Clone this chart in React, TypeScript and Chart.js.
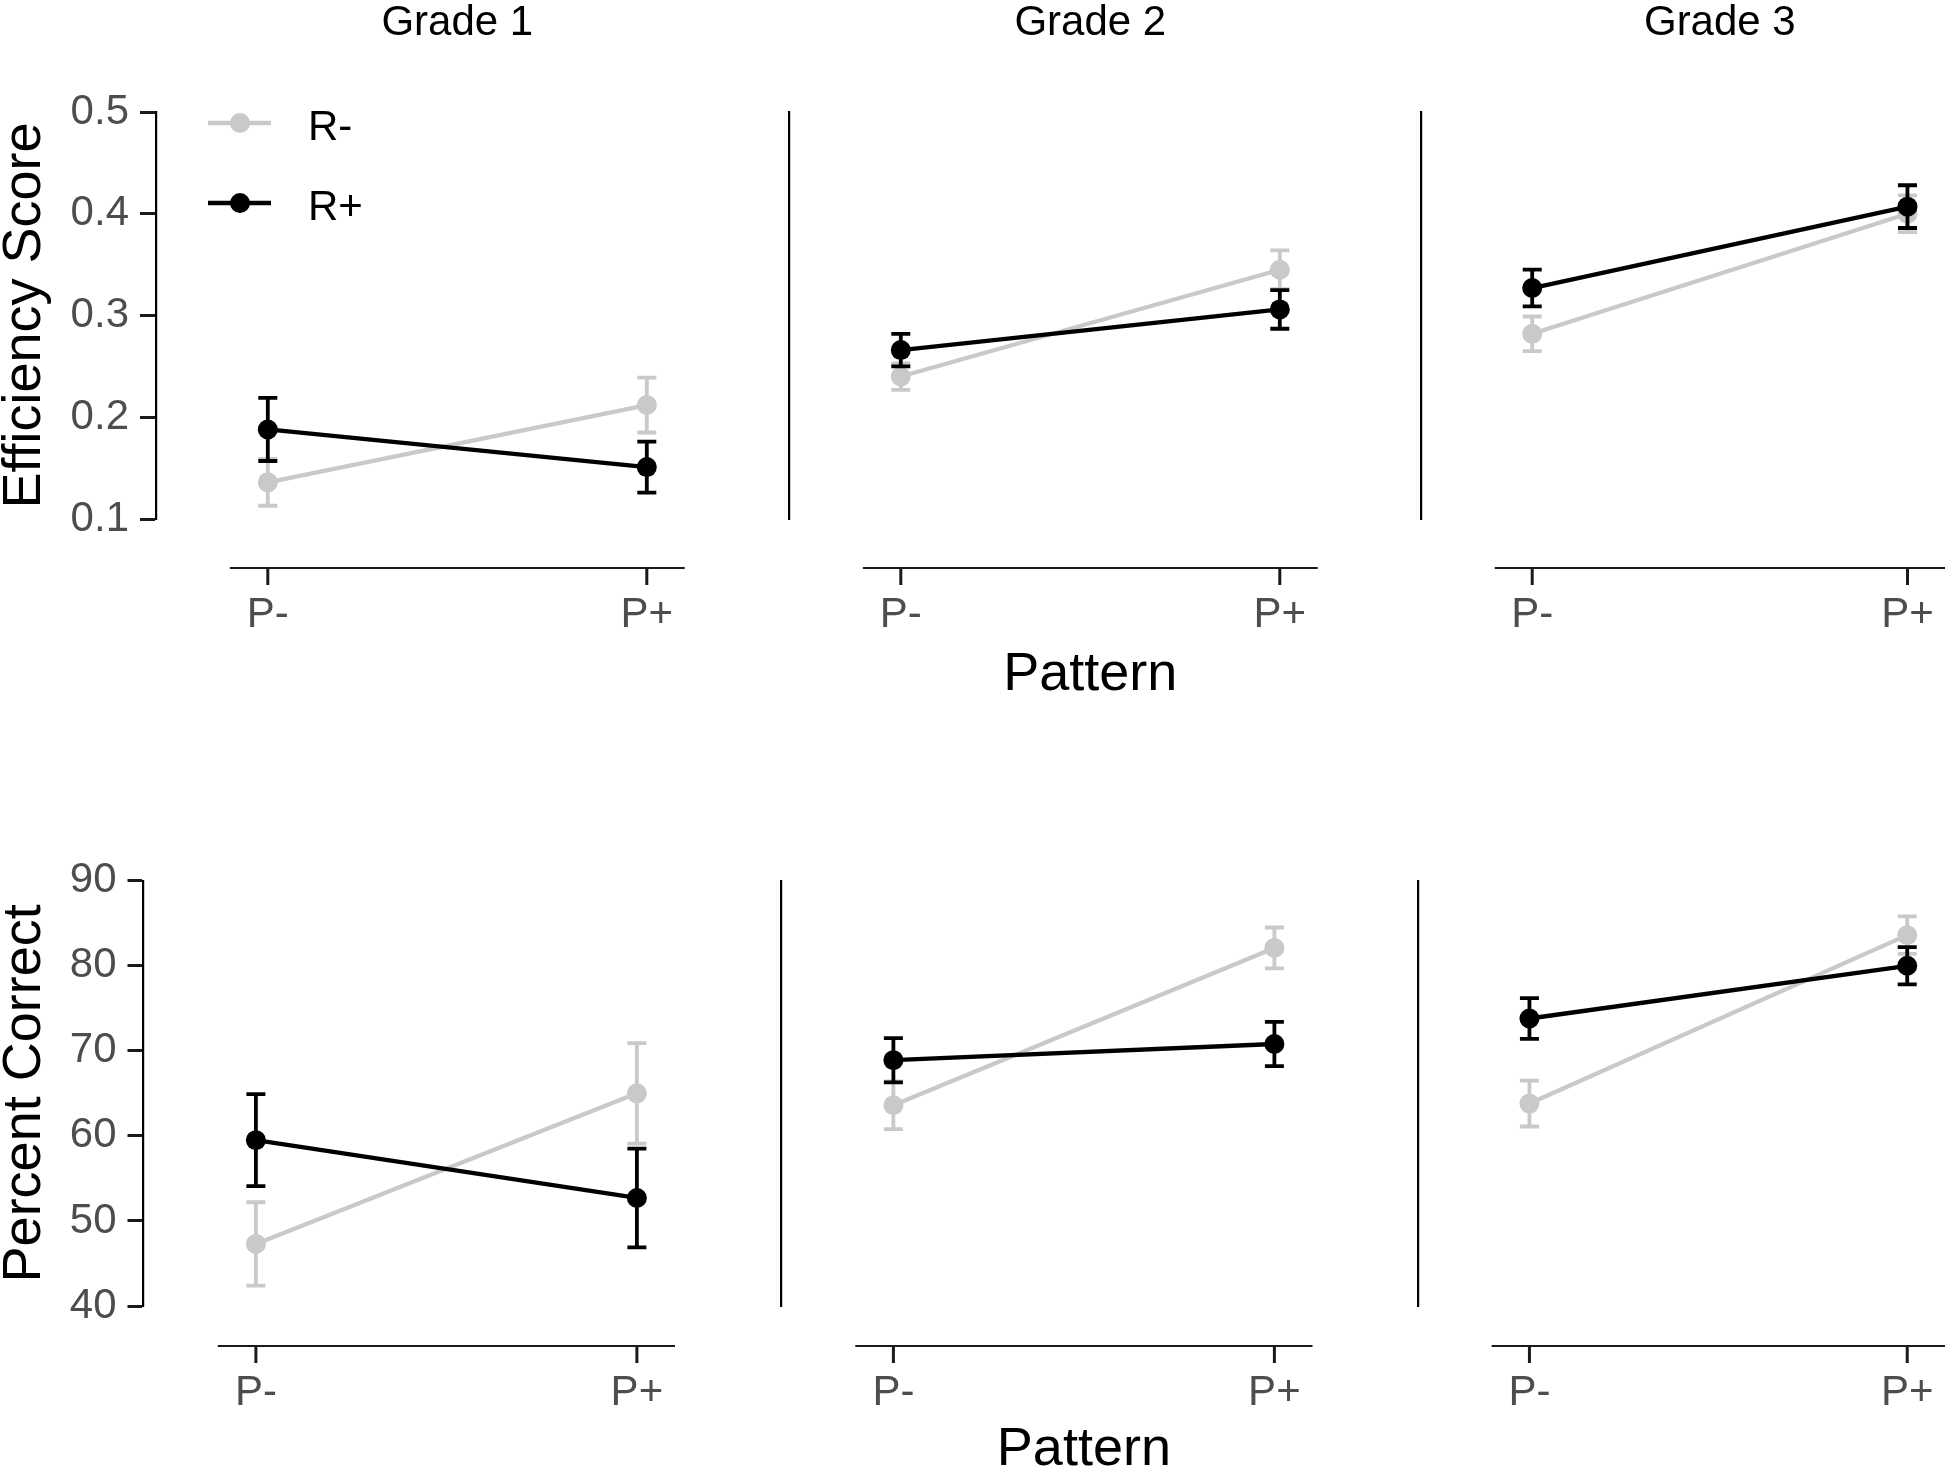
import { useEffect, useRef } from "react"
import { Chart, registerables } from "chart.js"

Chart.register(...registerables)

// ---- data ----
const grades = ["Grade 1", "Grade 2", "Grade 3"]
const patterns = ["P-", "P+"]
const groups = ["R-", "R+"]

// efficiency score, [grade][pattern]
const effRMinus = [[0.136, 0.212], [0.240, 0.345], [0.282, 0.400]]
const effRMinusErr = [[0.023, 0.027], [0.013, 0.019], [0.017, 0.018]]
const effRPlus = [[0.188, 0.151], [0.266, 0.306], [0.327, 0.407]]
const effRPlusErr = [[0.031, 0.025], [0.016, 0.019], [0.018, 0.021]]
const effTicks = [0.1, 0.2, 0.3, 0.4, 0.5]

// percent correct, [grade][pattern]
const pctRMinus = [[47.3, 65.0], [63.6, 82.1], [63.8, 83.6]]
const pctRMinusErr = [[4.9, 5.9], [2.8, 2.4], [2.7, 2.2]]
const pctRPlus = [[59.5, 52.7], [68.9, 70.8], [73.8, 80.0]]
const pctRPlusErr = [[5.4, 5.8], [2.6, 2.6], [2.4, 2.2]]
const pctTicks = [40, 50, 60, 70, 80, 90]

// ---- look ----
const W = 1955
const H = 1473
const FONT = "'Liberation Sans', Arial, Helvetica, sans-serif"
const GREY = "#c9c9c9"
const BLACK = "#000000"
const TICK_TEXT = "#4d4d4d"
const groupColors = [GREY, BLACK]

Chart.defaults.font.family = FONT

const rows = [
  {
    title: "Efficiency Score",
    values: [effRMinus, effRPlus],
    errors: [effRMinusErr, effRPlusErr],
    ticks: effTicks,
    fmt: (v: number) => v.toFixed(1),
    top: 112,
    bottom: 519,
    axisY: 568,
    lefts: [156, 789, 1421.5],
    unit: 379,
    patternBase: 690,
    strips: true,
    legend: true,
  },
  {
    title: "Percent Correct",
    values: [pctRMinus, pctRPlus],
    errors: [pctRMinusErr, pctRPlusErr],
    ticks: pctTicks,
    fmt: (v: number) => String(v),
    top: 880.7,
    bottom: 1306,
    axisY: 1346,
    lefts: [143.5, 781, 1418],
    unit: 381,
    patternBase: 1465,
    strips: false,
    legend: false,
  },
]

const X_MIN = -0.295
const X_MAX = 1.1

const facetPlugin = {
  id: "facet",
  beforeDatasetDraw(chart: any, args: any) {
    const { ctx, scales } = chart
    const ds = chart.data.datasets[args.index]
    ctx.save()
    ctx.strokeStyle = ds.borderColor
    ctx.lineWidth = 3.8
    ds.data.forEach((p: any, i: number) => {
      const e = ds.errors[i]
      const px = scales.x.getPixelForValue(p.x)
      const t = scales.y.getPixelForValue(p.y + e)
      const b = scales.y.getPixelForValue(p.y - e)
      ctx.beginPath()
      ctx.moveTo(px, t)
      ctx.lineTo(px, b)
      ctx.moveTo(px - 9.5, t)
      ctx.lineTo(px + 9.5, t)
      ctx.moveTo(px - 9.5, b)
      ctx.lineTo(px + 9.5, b)
      ctx.stroke()
    })
    ctx.restore()
  },
  afterDraw(chart: any, _args: any, opts: any) {
    const { ctx, scales } = chart
    const x = scales.x
    ctx.save()

    // offset x axis
    ctx.strokeStyle = "#1a1a1a"
    ctx.lineWidth = 2
    ctx.beginPath()
    ctx.moveTo(x.getPixelForValue(-0.1), opts.axisY)
    ctx.lineTo(x.getPixelForValue(1.1), opts.axisY)
    ctx.stroke()
    ctx.lineWidth = 3
    ctx.fillStyle = TICK_TEXT
    ctx.font = `42px ${FONT}`
    ctx.textAlign = "center"
    ctx.textBaseline = "alphabetic"
    patterns.forEach((lab, i) => {
      const px = x.getPixelForValue(i)
      ctx.beginPath()
      ctx.moveTo(px, opts.axisY)
      ctx.lineTo(px, opts.axisY + 17)
      ctx.stroke()
      ctx.fillText(lab, px, opts.axisY + 59)
    })

    const mid = x.getPixelForValue(0.5)
    ctx.fillStyle = "#000"
    if (opts.strip) {
      ctx.font = `42px ${FONT}`
      ctx.fillText(opts.strip, mid, 35)
    }
    if (opts.pattern) {
      ctx.font = `54px ${FONT}`
      ctx.fillText("Pattern", mid, opts.patternBase)
    }

    if (opts.legend) {
      const rowsY = [123, 203]
      chart.data.datasets.forEach((ds: any, i: number) => {
        const yy = rowsY[i]
        ctx.strokeStyle = ds.borderColor
        ctx.fillStyle = ds.borderColor
        ctx.lineWidth = 4.3
        ctx.beginPath()
        ctx.moveTo(208, yy)
        ctx.lineTo(271, yy)
        ctx.stroke()
        ctx.beginPath()
        ctx.arc(240, yy, 10, 0, Math.PI * 2)
        ctx.fill()
        ctx.fillStyle = "#000"
        ctx.font = `42px ${FONT}`
        ctx.textAlign = "left"
        ctx.fillText(ds.label, 308, yy + 17)
      })
    }
    ctx.restore()
  },
}

function Panel({ r, g }: { r: number; g: number }) {
  const ref = useRef<HTMLCanvasElement>(null)

  useEffect(() => {
    if (!ref.current) return
    const row = rows[r]
    const L = row.lefts[g]
    const first = g === 0
    const areaW = (X_MAX - X_MIN) * row.unit

    const datasets = groups.map((name, k) => ({
      label: name,
      data: patterns.map((_, i) => ({ x: i, y: row.values[k][g][i] })),
      errors: row.errors[k][g],
      borderColor: groupColors[k],
      backgroundColor: groupColors[k],
      pointBackgroundColor: groupColors[k],
      borderWidth: 4.3,
      pointRadius: 10,
      pointBorderWidth: 0,
      pointHoverRadius: 10,
      order: groups.length - k,
      clip: false,
    }))

    const chart = new Chart(ref.current, {
      type: "line",
      data: { datasets } as any,
      plugins: [facetPlugin as any],
      options: {
        responsive: false,
        animation: false,
        devicePixelRatio: 1,
        events: [],
        layout: {
          padding: {
            left: first ? 0 : L,
            top: row.top,
            bottom: H - row.bottom,
            right: W - L - areaW,
          },
        },
        plugins: {
          legend: { display: false },
          tooltip: { enabled: false },
          facet: {
            axisY: row.axisY,
            strip: row.strips ? grades[g] : null,
            pattern: g === 1,
            patternBase: row.patternBase,
            legend: row.legend && first,
          },
        } as any,
        scales: {
          x: { type: "linear", display: false, min: X_MIN, max: X_MAX },
          y: {
            type: "linear",
            min: row.ticks[0],
            max: row.ticks[row.ticks.length - 1],
            afterFit: (s: any) => {
              s.width = first ? L : 0
            },
            afterBuildTicks: (s: any) => {
              s.ticks = row.ticks.map((v) => ({ value: v }))
            },
            ticks: {
              display: first,
              color: TICK_TEXT,
              padding: 11,
              font: { size: 42 },
              callback: (v: any) => row.fmt(Number(v)),
            },
            grid: {
              display: first,
              drawOnChartArea: false,
              drawTicks: true,
              tickLength: 16,
              tickWidth: 3,
              tickColor: "#1a1a1a",
            },
            border: { display: true, width: 2.2, color: "#000" },
            title: {
              display: first,
              text: row.title,
              color: "#000",
              font: { size: 54, lineHeight: 1 },
              padding: { top: -2, bottom: 0 },
            },
          },
        },
      },
    })

    return () => chart.destroy()
  }, [r, g])

  return (
    <canvas
      ref={ref}
      width={W}
      height={H}
      style={{ position: "absolute", left: 0, top: 0 }}
    />
  )
}

export default function App() {
  useEffect(() => {
    document.body.style.margin = "0"
  }, [])

  return (
    <div style={{ position: "absolute", left: 0, top: 0, width: W, height: H, background: "#fff", overflow: "hidden" }}>
      {rows.map((_, r) => grades.map((_, g) => <Panel key={`${r}-${g}`} r={r} g={g} />))}
    </div>
  )
}
